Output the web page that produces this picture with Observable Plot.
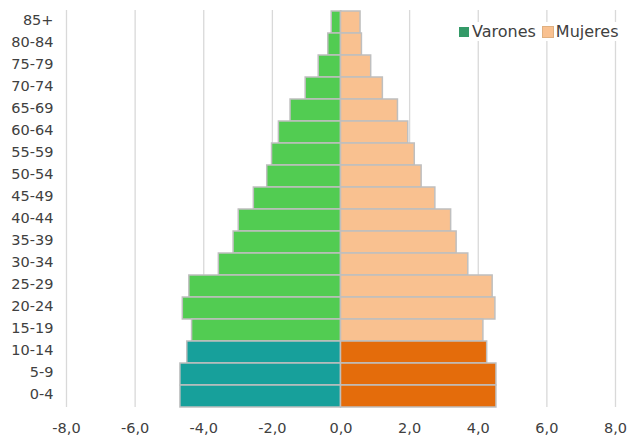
<!DOCTYPE html>
<html>
<head>
<meta charset="utf-8">
<script src="https://cdn.jsdelivr.net/npm/d3@7"></script>
<script src="https://cdn.jsdelivr.net/npm/@observablehq/plot@0.6"></script>
<style>
  html, body { margin: 0; padding: 0; background: #fff; }
  #wrap { position: relative; width: 627px; height: 441px; font-family: "DejaVu Sans", sans-serif; }
  #legend { position: absolute; left: 455px; top: 22px; background: #fff; padding: 0 4px; display: flex; align-items: center; font-size: 16px; color: #404040; }
  #legend .sw { display: inline-block; width: 10px; height: 10px; margin-right: 3px; }
  #legend .item { display: flex; align-items: center; margin-right: 7px; }
</style>
</head>
<body>
<div id="wrap"><div id="chart"></div><div id="legend"></div></div>
<script>
const ageGroups = ["85+","80-84","75-79","70-74","65-69","60-64","55-59","50-54","45-49","40-44","35-39","30-34","25-29","20-24","15-19","10-14","5-9","0-4"];
const varones = [-0.27,-0.37,-0.65,-1.03,-1.47,-1.81,-2.01,-2.15,-2.54,-2.98,-3.13,-3.56,-4.42,-4.61,-4.34,-4.48,-4.68,-4.68];
const mujeres = [0.57,0.61,0.88,1.22,1.66,1.96,2.15,2.35,2.75,3.21,3.37,3.71,4.42,4.50,4.15,4.26,4.53,4.53];
const highlighted = ["0-4","5-9","10-14"];
const xTicks = [-8,-6,-4,-2,0,2,4,6,8];
const seriesNames = ["Varones","Mujeres"];
const colors = {varones: "#52cc52", mujeres: "#f9c190", varonesHi: "#17a09b", mujeresHi: "#e46c0b"};
const legendColors = ["#349a68", "#f9c190"];

const rows = [];
ageGroups.forEach((g, i) => {
  const hi = highlighted.includes(g);
  rows.push({age: g, value: varones[i], fill: hi ? colors.varonesHi : colors.varones});
  rows.push({age: g, value: mujeres[i], fill: hi ? colors.mujeresHi : colors.mujeres});
});

const fmt = d => d.toFixed(1).replace(".", ",");

const chart = Plot.plot({
  width: 627,
  height: 441,
  marginLeft: 66,
  marginRight: 12,
  marginTop: 10,
  marginBottom: 34,
  style: {fontFamily: "DejaVu Sans, sans-serif", fontSize: "14.5px", color: "#404040", background: "#fff"},
  x: {domain: [-8, 8], ticks: xTicks, tickFormat: fmt, label: null},
  y: {domain: ageGroups, padding: 0, label: null},
  marks: [
    Plot.gridX(xTicks, {stroke: "#d9d9d9", strokeOpacity: 1, strokeWidth: 1.3}),
    Plot.barX(rows, {x: "value", y: "age", fill: d => d.fill, stroke: "#bfbfbf", strokeWidth: 1.5, inset: 0}),
    Plot.axisX({ticks: xTicks, tickFormat: fmt, tickSize: 0, tickPadding: 15, label: null, fill: "#404040"}),
    Plot.axisY({tickSize: 0, tickPadding: 13, dy: -2, label: null, fill: "#404040"})
  ]
});
document.getElementById("chart").appendChild(chart);

const legend = document.getElementById("legend");
seriesNames.forEach((name, i) => {
  const item = document.createElement("span");
  item.className = "item";
  const sw = document.createElement("span");
  sw.className = "sw";
  sw.style.background = legendColors[i];
  if (i === 1) sw.style.outline = "1px solid #e0b080";
  item.appendChild(sw);
  item.appendChild(document.createTextNode(name));
  legend.appendChild(item);
});
</script>
</body>
</html>
